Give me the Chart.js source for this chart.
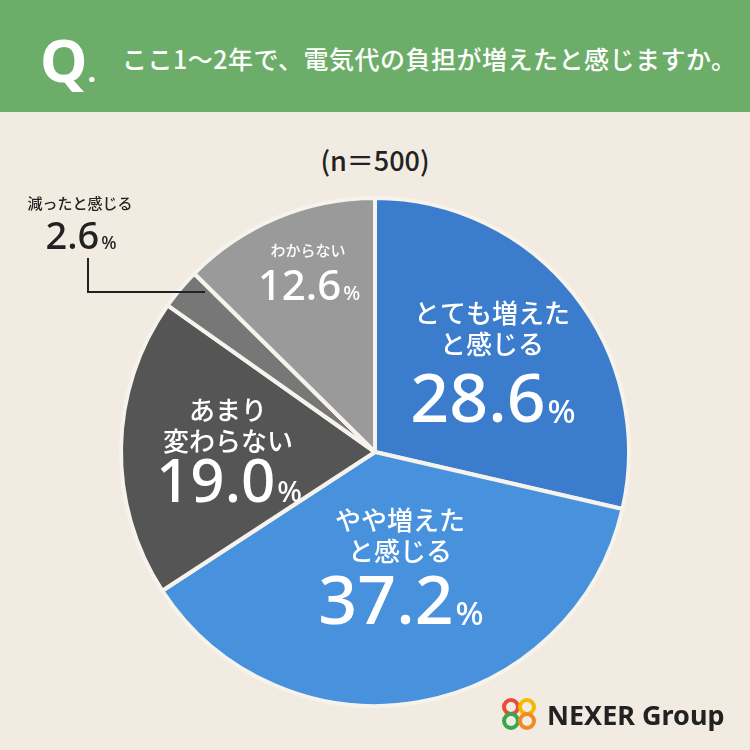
<!DOCTYPE html>
<html><head><meta charset="utf-8">
<script src="https://cdn.jsdelivr.net/npm/chart.js@4"></script>
<style>
body{margin:0;width:750px;height:750px;background:#f1ebe1;position:relative;overflow:hidden;font-family:"Noto Sans CJK JP","Noto Sans",sans-serif}
#hdr{position:absolute;left:0;top:0;width:750px;height:112px;background:#6cae69;color:#fff}
#q{position:absolute;left:40px;top:18px;font:bold 60px "Noto Sans";}
#qt{position:absolute;left:122px;top:40px;font:500 25px "Noto Sans CJK JP";letter-spacing:0.5px}
#n{position:absolute;left:0;width:750px;top:140px;text-align:center;font:500 27px "Noto Sans CJK JP";color:#222}
#wrap{position:absolute;left:0;top:0;width:750px;height:750px}
#logo{position:absolute;left:500px;top:696px;font:bold 27px "Noto Sans";color:#222}
</style></head><body>
<div id="hdr"><div id="q">Q<span style="font-size:30px">.</span></div><div id="qt">ここ1〜2年で、電気代の負担が増えたと感じますか。</div></div>
<div id="n">(n＝500)</div>
<div id="wrap"><canvas id="c" width="750" height="750"></canvas></div>
<div id="logo"><svg width="40" height="34" style="vertical-align:-6px"><circle cx="11" cy="10" r="7" fill="none" stroke="#e94b3c" stroke-width="4"/><circle cx="27" cy="10" r="7" fill="none" stroke="#f5b800" stroke-width="4"/><circle cx="11" cy="24" r="7" fill="none" stroke="#3aa84a" stroke-width="4"/><circle cx="27" cy="24" r="7" fill="none" stroke="#f08a24" stroke-width="4"/></svg> NEXER Group</div>
<script>
const categories=["とても増えたと感じる","やや増えたと感じる","あまり変わらない","減ったと感じる","わからない"];
const values=[28.6,37.2,19.0,2.6,12.6];
const colors=["#3b7dcc","#4891dc","#555555","#777777","#9a9a9a"];
const labelLines=[["とても増えた","と感じる"],["やや増えた","と感じる"],["あまり","変わらない"],["減ったと感じる"],["わからない"]];
// label layout: [x, titleY, numberY, titleSize, numberSize, color]
const labelPos=[[492,313,403,26,68,"#fff"],[400,520,605,26,68,"#fff"],[228,410,485,26,60,"#fff"],[80,203,238,15,38,"#222"],[308,250,288,15,42,"#fff"]];
const labelPlug={id:"lbl",afterDatasetsDraw(ch){
 const c=ch.ctx;
 c.strokeStyle="#222";c.lineWidth=2;c.beginPath();c.moveTo(88,258);c.lineTo(88,292);c.lineTo(205,292);c.stroke();
 values.forEach((val,i)=>{
  const [x,ty,ny,ts,ns,col]=labelPos[i];const v=val.toFixed(1);
  c.fillStyle=col;c.textAlign="center";c.textBaseline="middle";
  c.font=`500 ${ts}px "Noto Sans CJK JP"`;
  labelLines[i].forEach((t,k)=>c.fillText(t,x,ty+k*ts*1.2));
  c.font=`500 ${ns}px "Noto Sans"`;const w1=c.measureText(v).width;
  const sm=Math.round(ns*0.48);c.font=`500 ${sm}px "Noto Sans"`;const w2=c.measureText("%").width;
  const x0=x-(w1+w2)/2;c.textAlign="left";
  c.font=`500 ${ns}px "Noto Sans"`;c.fillText(v,x0,ny);
  c.font=`500 ${sm}px "Noto Sans"`;c.fillText("%",x0+w1+2,ny+ns*0.15);
 });}};
new Chart(document.getElementById("c"),{type:"pie",
 data:{labels:categories,datasets:[{data:values,backgroundColor:colors,borderColor:"#f6f2ec",borderWidth:4}]},
 options:{responsive:false,animation:false,layout:{padding:{left:118,right:118,top:196,bottom:42}},
  plugins:{legend:{display:false},tooltip:{enabled:false}}},plugins:[labelPlug]});
</script></body></html>
